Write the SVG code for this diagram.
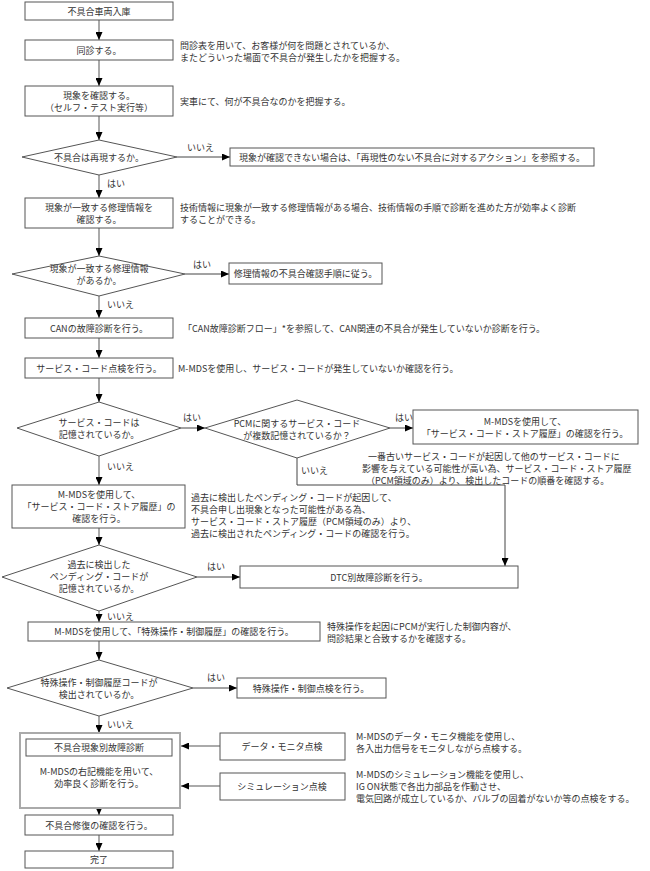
<svg xmlns="http://www.w3.org/2000/svg" width="650" height="871" viewBox="0 0 650 871">
<defs>
<marker id="ah" markerWidth="8" markerHeight="7" refX="8" refY="3.5" orient="auto" markerUnits="userSpaceOnUse"><path d="M0,0 L8,3.5 L0,7 z" fill="#000"/></marker>
<style>
text{font-family:"Noto Sans CJK JP","Noto Sans",sans-serif;font-size:9px;fill:#333;dominant-baseline:central}
.c{text-anchor:middle}
.box{fill:#fff;stroke:#555;stroke-width:1}
.big{fill:#fff;stroke:#aaa;stroke-width:2}
.dia{fill:#fff;stroke:#555;stroke-width:1}
.v{stroke:#aaa;stroke-width:2;fill:none;marker-end:url(#ah)}
.h{stroke:#444;stroke-width:1;fill:none;marker-end:url(#ah)}
</style>
</defs>
<rect width="650" height="871" fill="#fff"/>
<g id="connectors">
<path class="v" d="M99,20 V40"/>
<path class="v" d="M99,60 V86"/>
<path class="v" d="M99,116 V140"/>
<path class="h" d="M177,157 H230"/>
<path class="v" d="M99,175 V198"/>
<path class="v" d="M99,228 V256"/>
<path class="h" d="M185,274 H229"/>
<path class="v" d="M99,296 V318"/>
<path class="v" d="M99,338 V358"/>
<path class="v" d="M99,378 V402"/>
<path class="h" d="M181,428 H205"/>
<path class="h" d="M390,428 H413"/>
<path class="v" d="M99,456 V485"/>
<path class="h" d="M297,458 V485 H505 V566"/>
<path class="v" d="M99,528 V545"/>
<path class="h" d="M197,577 H240"/>
<path class="v" d="M99,611 V622"/>
<path class="v" d="M99,641 V660"/>
<path class="h" d="M193,688 H237"/>
<path class="v" d="M99,716 V733"/>
<path class="v" d="M220,746 H181"/>
<path class="v" d="M220,786 H181"/>
<path class="v" d="M99,808 V815"/>
<path class="v" d="M99,835 V851"/>
</g>
<g id="labels">
<text x="187" y="147">いいえ</text>
<text x="107" y="183">はい</text>
<text x="193" y="264">はい</text>
<text x="107" y="304">いいえ</text>
<text x="183" y="417">はい</text>
<text x="395" y="417">はい</text>
<text x="107" y="466">いいえ</text>
<text x="301" y="470">いいえ</text>
<text x="207" y="566">はい</text>
<text x="107" y="616">いいえ</text>
<text x="207" y="677">はい</text>
<text x="107" y="724">いいえ</text>
</g>
<g id="n1"><rect class="box" x="25" y="2" width="148" height="18"/><text class="c" x="99" y="11">不具合車両入庫</text></g>
<g id="n2"><rect class="box" x="25" y="40" width="148" height="20"/><text class="c" x="99" y="50">同診する。</text></g>
<g id="t2"><text x="180" y="45">問診表を用いて、お客様が何を問題とされているか、</text><text x="180" y="57">またどういった場面で不具合が発生したかを把握する。</text></g>
<g id="n3"><rect class="box" x="25" y="86" width="148" height="30"/><text class="c" x="99" y="95">現象を確認する。</text><text class="c" x="99" y="107">（セルフ・テスト実行等）</text></g>
<g id="t3"><text x="180" y="101">実車にて、何が不具合なのかを把握する。</text></g>
<g id="d1"><polygon class="dia" points="99,140 177,157 99,175 22,157"/><text class="c" x="99" y="157">不具合は再現するか。</text></g>
<g id="r1"><rect class="box" x="230" y="148" width="364" height="18"/><text class="c" x="412" y="157">現象が確認できない場合は、「再現性のない不具合に対するアクション」を参照する。</text></g>
<g id="n4"><rect class="box" x="25" y="198" width="148" height="30"/><text class="c" x="99" y="207">現象が一致する修理情報を</text><text class="c" x="99" y="219">確認する。</text></g>
<g id="t4"><text x="180" y="207">技術情報に現象が一致する修理情報がある場合、技術情報の手順で診断を進めた方が効率よく診断</text><text x="180" y="219">することができる。</text></g>
<g id="d2"><polygon class="dia" points="99,256 185,274 99,296 12,274"/><text class="c" x="99" y="268">現象が一致する修理情報</text><text class="c" x="99" y="280">があるか。</text></g>
<g id="r2"><rect class="box" x="229" y="263" width="153" height="21"/><text class="c" x="305.5" y="273.5">修理情報の不具合確認手順に従う。</text></g>
<g id="n5"><rect class="box" x="25" y="318" width="148" height="20"/><text class="c" x="99" y="328">CANの故障診断を行う。</text></g>
<g id="t5"><text x="183" y="328">「CAN故障診断フロー」*を参照して、CAN関連の不具合が発生していないか診断を行う。</text></g>
<g id="n6"><rect class="box" x="25" y="358" width="148" height="20"/><text class="c" x="99" y="368">サービス・コード点検を行う。</text></g>
<g id="t6"><text x="178" y="368">M-MDSを使用し、サービス・コードが発生していないか確認を行う。</text></g>
<g id="d3"><polygon class="dia" points="99,402 181,428 99,456 17,428"/><text class="c" x="99" y="422">サービス・コードは</text><text class="c" x="99" y="434">記憶されているか。</text></g>
<g id="d4"><polygon class="dia" points="297,400 390,428 297,458 205,428"/><text class="c" x="297" y="423">PCMに関するサービス・コード</text><text class="c" x="297" y="435">が複数記憶されているか？</text></g>
<g id="r3"><rect class="box" x="413" y="410" width="225" height="34"/><text class="c" x="525" y="421">M-MDSを使用して、</text><text class="c" x="525" y="433">「サービス・コード・ストア履歴」の確認を行う。</text></g>
<g id="t7"><text x="368" y="456">一番古いサービス・コードが起因して他のサービス・コードに</text><text x="362" y="468">影響を与えている可能性が高い為、サービス・コード・ストア履歴</text><text x="366" y="480">（PCM領域のみ）より、検出したコードの順番を確認する。</text></g>
<g id="n7"><rect class="box" x="12" y="485" width="173" height="43"/><text class="c" x="99" y="494">M-MDSを使用して、</text><text class="c" x="99" y="506">「サービス・コード・ストア履歴」の</text><text class="c" x="99" y="518">確認を行う。</text></g>
<g id="t8"><text x="191" y="497">過去に検出したペンディング・コードが起因して、</text><text x="191" y="509">不具合申し出現象となった可能性がある為、</text><text x="191" y="521">サービス・コード・ストア履歴（PCM領域のみ）より、</text><text x="191" y="533">過去に検出されたペンディング・コードの確認を行う。</text></g>
<g id="d5"><polygon class="dia" points="99,545 197,577 99,611 2,577"/><text class="c" x="99" y="564">過去に検出した</text><text class="c" x="99" y="576">ペンディング・コードが</text><text class="c" x="99" y="588">記憶されているか。</text></g>
<g id="r5"><rect class="box" x="240" y="566" width="278" height="22"/><text class="c" x="379" y="577">DTC別故障診断を行う。</text></g>
<g id="n8"><rect class="box" x="28" y="622" width="292" height="19"/><text class="c" x="174" y="631.5">M-MDSを使用して、「特殊操作・制御履歴」の確認を行う。</text></g>
<g id="t9"><text x="327" y="626">特殊操作を起因にPCMが実行した制御内容が、</text><text x="327" y="638">問診結果と合致するかを確認する。</text></g>
<g id="d6"><polygon class="dia" points="99,660 193,688 99,716 7,688"/><text class="c" x="99" y="682">特殊操作・制御履歴コードが</text><text class="c" x="99" y="694">検出されているか。</text></g>
<g id="r6"><rect class="box" x="237" y="678" width="149" height="20"/><text class="c" x="311" y="688">特殊操作・制御点検を行う。</text></g>
<g id="n9"><rect class="big" x="20" y="733" width="160" height="75"/><rect class="box" x="26" y="739" width="146" height="17"/><text class="c" x="99" y="747.5">不具合現象別故障診断</text><text class="c" x="99" y="771">M-MDSの右記機能を用いて、</text><text class="c" x="99" y="783">効率良く診断を行う。</text></g>
<g id="n10"><rect class="box" x="220" y="733" width="125" height="27"/><text class="c" x="282" y="746.5">データ・モニタ点検</text></g>
<g id="n11"><rect class="box" x="220" y="773" width="125" height="27"/><text class="c" x="282" y="786.5">シミュレーション点検</text></g>
<g id="t10"><text x="356" y="736">M-MDSのデータ・モニタ機能を使用し、</text><text x="356" y="748">各入出力信号をモニタしながら点検する。</text></g>
<g id="t11"><text x="356" y="774">M-MDSのシミュレーション機能を使用し、</text><text x="356" y="786">IG ON状態で各出力部品を作動させ、</text><text x="356" y="798">電気回路が成立しているか、バルブの固着がないか等の点検をする。</text></g>
<g id="n12"><rect class="box" x="25" y="815" width="148" height="20"/><text class="c" x="99" y="825">不具合修復の確認を行う。</text></g>
<g id="n13"><rect class="box" x="25" y="851" width="148" height="17"/><text class="c" x="99" y="859.5">完了</text></g>
</svg>
